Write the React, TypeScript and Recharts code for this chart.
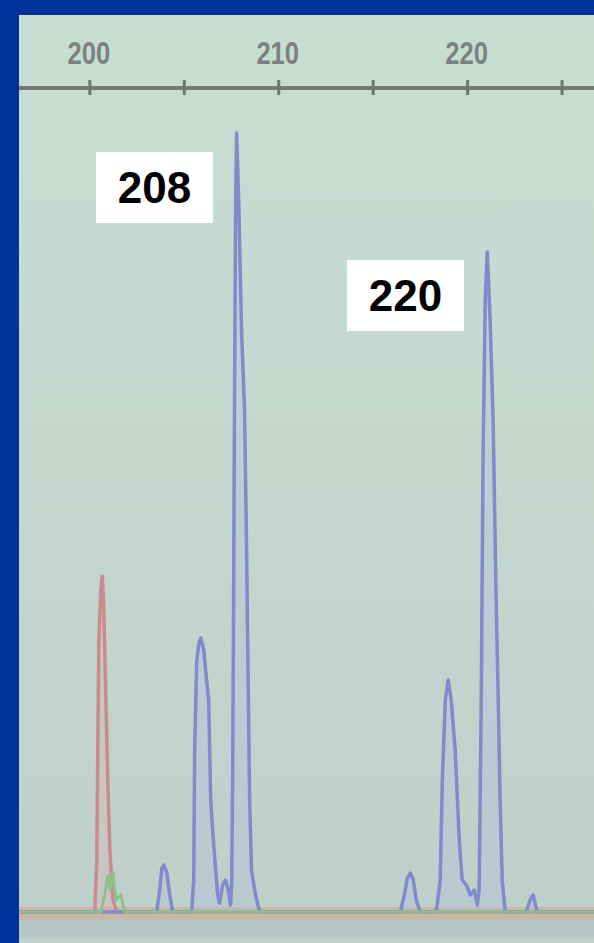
import React from "react";
import { ComposedChart, Line, Area, XAxis, YAxis, ReferenceArea } from "recharts";

// fragment size (bp) and signal (rfu)
const sizeTicks = [200, 205, 210, 215, 220, 225];

const blueSize = [
  196.25, 202.7, 203.54, 203.7, 203.81, 203.91, 204.07, 204.23, 204.39,
  205.39, 205.5, 205.55, 205.66, 205.79, 205.87, 206.03, 206.18, 206.29, 206.4, 206.5, 206.66, 206.77,
  206.87, 207.03, 207.19, 207.35, 207.45,
  207.51, 207.56, 207.61, 207.66, 207.72, 207.77, 207.88, 208.03, 208.19, 208.3, 208.38, 208.46, 208.56, 208.77, 208.99,
  210.62, 216.44, 216.65, 216.81, 216.97, 217.12, 217.28, 217.49,
  218.34, 218.55, 218.66, 218.82, 218.97, 219.13, 219.34, 219.56, 219.71, 219.93, 220.14, 220.35, 220.51,
  220.61, 220.72, 220.82, 220.93, 221.04, 221.19, 221.35, 221.51, 221.62, 221.72, 221.83, 221.99,
  223.1, 223.31, 223.47, 223.68, 226.69,
];
const blueRfu = [
  0, 0, 0, 220, 440, 470, 400, 170, 0,
  0, 320, 1620, 2520, 2700, 2740, 2620, 2320, 2120, 1120, 820, 420, 170,
  90, 270, 320, 200, 70,
  320, 1320, 3120, 5120, 7120, 7790, 7120, 5820, 5020, 3620, 2320, 1120, 420, 170, 0,
  0, 0, 170, 340, 390, 320, 120, 0,
  0, 320, 1320, 2120, 2320, 2120, 1620, 720, 320, 270, 170, 220, 70,
  220, 2120, 4620, 6120, 6600, 5920, 4920, 3120, 2120, 1120, 320, 0,
  0, 120, 170, 0, 0,
];

const redSize = [196.25, 200.26, 200.37, 200.42, 200.48, 200.58, 200.66, 200.74, 200.85, 200.95, 201.06, 201.22, 201.43, 226.69];
const redRfu = [0, 0, 520, 1620, 2720, 3220, 3370, 3020, 2120, 1320, 620, 120, 0, 0];

const greenSize = [196.25, 200.58, 200.79, 200.95, 201.06, 201.22, 201.37, 201.64, 201.85, 226.69];
const greenRfu = [0, 0, 170, 370, 220, 400, 120, 170, 0, 0];

const peakLabels = [
  { text: "208", left: 96, top: 152 },
  { text: "220", left: 347, top: 260 },
];

const zip = (xs: number[], ys: number[]) => xs.map((size, i) => ({ size, rfu: ys[i] }));
const blue = zip(blueSize, blueRfu);
const red = zip(redSize, redRfu);
const green = zip(greenSize, greenRfu);

const SizeTick = (props: any) => {
  const { x, payload } = props;
  const v = payload.value;
  return (
    <g>
      <line x1={x} x2={x} y1={65} y2={80} stroke="#6f7773" strokeWidth={3} />
      {v % 10 === 0 && (
        <text
          x={0}
          y={0}
          transform={`translate(${x - 1},49) scale(0.8,1)`}
          textAnchor="middle"
          fill="#7a827f"
          fontFamily="Liberation Sans, Arial, sans-serif"
          fontWeight="bold"
          fontSize={32}
        >
          {v}
        </text>
      )}
    </g>
  );
};

export default function App() {
  return (
    <div style={{ position: "absolute", left: 0, top: 0, width: 594, height: 943, background: "#003399", overflow: "hidden" }}>
      <div
        style={{
          position: "absolute",
          left: 19,
          top: 15,
          width: 575,
          height: 928,
          background: "linear-gradient(#c7ded3, #c3d6cd 60%, #bfcfca)",
        }}
      >
        <ComposedChart width={575} height={928} margin={{ top: 0, right: 0, bottom: 5, left: 0 }}>
          <XAxis
            type="number"
            dataKey="size"
            orientation="top"
            height={73}
            domain={[196.25, 226.69]}
            allowDataOverflow
            ticks={sizeTicks}
            tickLine={false}
            tick={<SizeTick />}
            axisLine={{ stroke: "#737b77", strokeWidth: 4 }}
          />
          <YAxis hide type="number" domain={[-260, 8240]} allowDataOverflow />
          <ReferenceArea y1={-260} y2={-80} fill="#b7c7c7" fillOpacity={1} stroke="none" ifOverflow="visible" />
          <ReferenceArea y1={-80} y2={50} fill="#c9b8a8" fillOpacity={1} stroke="none" ifOverflow="visible" />
          <Line data={green} dataKey="rfu" type="linear" stroke="#8fbf8c" strokeWidth={3} dot={false} isAnimationActive={false} />
          <Area
            data={red}
            dataKey="rfu"
            type="linear"
            baseValue={0}
            stroke="#c98a90"
            strokeWidth={3.5}
            fill="#d8b0b4"
            fillOpacity={0.3}
            dot={false}
            isAnimationActive={false}
          />
          <Area
            data={blue}
            dataKey="rfu"
            type="linear"
            baseValue={0}
            stroke="#808bcb"
            strokeWidth={3.5}
            strokeLinejoin="round"
            fill="#b0b9e0"
            fillOpacity={0.3}
            dot={false}
            isAnimationActive={false}
          />
        </ComposedChart>
      </div>
      {peakLabels.map((p) => (
        <div
          key={p.text}
          style={{
            position: "absolute",
            left: p.left,
            top: p.top,
            width: 117,
            height: 71,
            background: "#ffffff",
            display: "flex",
            alignItems: "center",
            justifyContent: "center",
            fontFamily: "Liberation Sans, Arial, sans-serif",
            fontWeight: "bold",
            fontSize: 44,
            color: "#000000",
          }}
        >
          {p.text}
        </div>
      ))}
    </div>
  );
}
